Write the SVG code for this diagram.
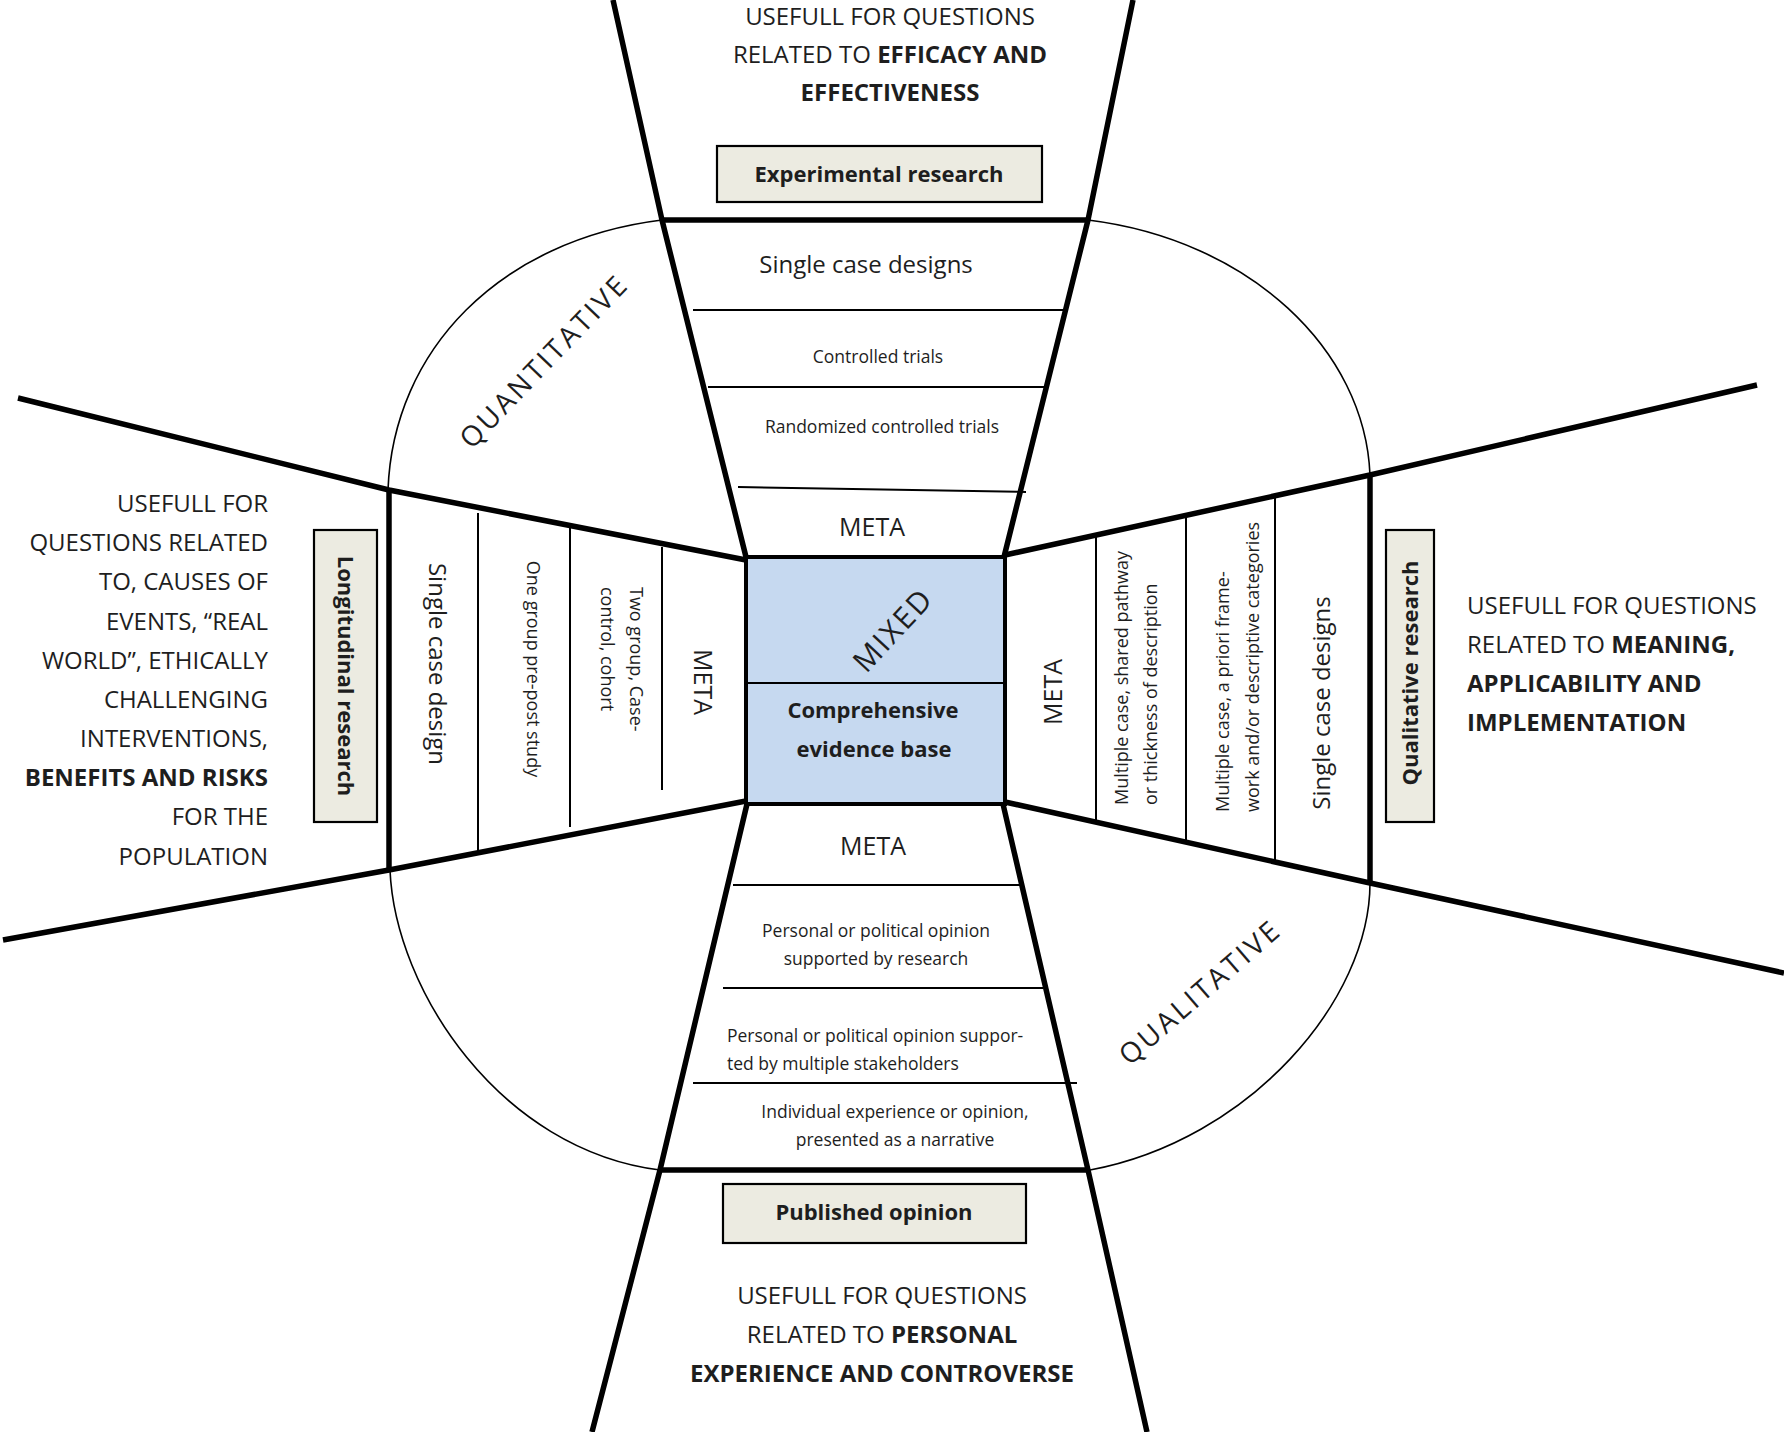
<svg xmlns="http://www.w3.org/2000/svg" width="1784" height="1432" viewBox="0 0 1784 1432">
<style>
text{font-family:"Open Sans","Liberation Sans",sans-serif;fill:#1e1e1e}
.body{font-size:24px}
.b{font-weight:bold}
.lbl{font-size:22px;font-weight:bold;text-anchor:middle}
.c{text-anchor:middle}
.r{text-anchor:end}
.big{font-size:24px}
.meta{font-size:25px;text-anchor:middle}
.sm{font-size:17.5px}
.sm18{font-size:18px}
.arc{font-size:28px;letter-spacing:3px;text-anchor:middle}
.thick{fill:none;stroke:#000;stroke-width:5.5;stroke-linejoin:round}
.thin{fill:none;stroke:#000;stroke-width:2}
.curve{fill:none;stroke:#000;stroke-width:1.6}
.box{fill:#ecebe1;stroke:#000;stroke-width:2.2}
</style>
<rect width="1784" height="1432" fill="#fff"/>

<g id="connectors">
  <path class="curve" d="M388,490 C393,350 500,240 662,220"/>
  <path class="curve" d="M1088,220 C1250,240 1365,350 1370,475"/>
  <path class="curve" d="M390,870 C395,990 500,1150 660,1170"/>
  <path class="curve" d="M1370,883 C1370,1000 1250,1140 1090,1170"/>
  <path class="thick" d="M613,0 L662,220 L746,557"/>
  <path class="thick" d="M1133,0 L1088,220 L1004,557"/>
  <path class="thick" d="M662,220 H1088"/>
  <path class="thin" d="M693,310 H1063"/>
  <path class="thin" d="M708,387 H1044"/>
  <path class="thin" d="M738,487 L1026,492"/>
  <path class="thick" d="M18,398 L389,490 L746,560"/>
  <path class="thick" d="M3,940 L389,870 L746,801"/>
  <path class="thick" d="M389,490 V870"/>
  <path class="thin" d="M478,513 V852"/>
  <path class="thin" d="M570,528 V827"/>
  <path class="thin" d="M662,547 V790"/>
  <path class="thick" d="M1005,555 L1370,475 L1757,385"/>
  <path class="thick" d="M1005,802 L1370,883 L1784,973"/>
  <path class="thick" d="M1370,475 V883"/>
  <path class="thin" d="M1096,537 V822"/>
  <path class="thin" d="M1186,515 V842"/>
  <path class="thin" d="M1275,497 V860"/>
  <path class="thick" d="M747,804 L660,1170 L592,1432"/>
  <path class="thick" d="M1003,804 L1088,1170 L1147,1432"/>
  <path class="thick" d="M660,1170 H1088"/>
  <path class="thin" d="M733,885 H1020"/>
  <path class="thin" d="M723,988 H1043"/>
  <path class="thin" d="M693,1083 H1077"/>
</g>

<g id="center">
  <rect x="746" y="557" width="259" height="247" fill="#c6d9f0" stroke="#000" stroke-width="4"/>
  <line x1="746" y1="683" x2="1005" y2="683" stroke="#000" stroke-width="2"/>
  <text class="c" font-size="30" letter-spacing="2" transform="translate(893,630) rotate(-47)" y="10.5">MIXED</text>
  <text class="lbl" x="873" y="718">Comprehensive</text>
  <text class="lbl" x="874" y="757">evidence base</text>
</g>

<g id="experimental">
  <text class="body c" x="890" y="25">USEFULL FOR QUESTIONS</text>
  <text class="body c" x="890" y="63">RELATED TO <tspan class="b">EFFICACY AND</tspan></text>
  <text class="body c b" x="890" y="101">EFFECTIVENESS</text>
  <rect class="box" x="717" y="146" width="325" height="56"/>
  <text class="lbl" x="879" y="182">Experimental research</text>
  <text class="big c" x="866" y="273">Single case designs</text>
  <text class="sm c" x="878" y="363">Controlled trials</text>
  <text class="sm c" x="882" y="433">Randomized controlled trials</text>
  <text class="meta" x="872" y="536">META</text>
</g>

<g id="quantitative">
  <text class="arc" transform="translate(544,361) rotate(-46)" y="10">QUANTITATIVE</text>
</g>

<g id="qualitative">
  <text class="arc" transform="translate(1200,992) rotate(-41)" y="10">QUALITATIVE</text>
</g>

<g id="longitudinal">
  <text class="body r" x="268" y="512">USEFULL FOR</text>
  <text class="body r" x="268" y="551">QUESTIONS RELATED</text>
  <text class="body r" x="268" y="590">TO, CAUSES OF</text>
  <text class="body r" x="268" y="630">EVENTS, “REAL</text>
  <text class="body r" x="268" y="669">WORLD”, ETHICALLY</text>
  <text class="body r" x="268" y="708">CHALLENGING</text>
  <text class="body r" x="268" y="747">INTERVENTIONS,</text>
  <text class="body r b" x="268" y="786">BENEFITS AND RISKS</text>
  <text class="body r" x="268" y="825">FOR THE</text>
  <text class="body r" x="268" y="865">POPULATION</text>
  <rect class="box" x="314" y="530" width="63" height="292"/>
  <text class="lbl" transform="translate(346,676) rotate(90)" y="8">Longitudinal research</text>
  <text class="big c" transform="translate(437,664) rotate(90)" y="8.5">Single case design</text>
  <text class="sm18 c" transform="translate(533,669) rotate(90)" y="6.3">One group pre-post study</text>
  <text class="sm18" transform="translate(636,587) rotate(90)"><tspan x="0" y="6.3">Two group, Case-</tspan><tspan x="0" y="35.3">control, cohort</tspan></text>
  <text class="meta" transform="translate(703,682) rotate(90)" y="9">META</text>
</g>

<g id="qualitative-research">
  <text class="meta" transform="translate(1053,692) rotate(-90)" y="9">META</text>
  <text class="sm18" transform="translate(1122,805) rotate(-90)"><tspan x="0" y="6.3">Multiple case, shared pathway</tspan><tspan x="0" y="35.3">or thickness of description</tspan></text>
  <text class="sm18" transform="translate(1223,812) rotate(-90)"><tspan x="0" y="6.3">Multiple case, a priori frame-</tspan><tspan x="0" y="36.3">work and/or descriptive categories</tspan></text>
  <text class="big c" transform="translate(1321,703) rotate(-90)" y="8.5">Single case designs</text>
  <rect class="box" x="1386" y="530" width="48" height="292"/>
  <text class="lbl" transform="translate(1410,673) rotate(-90)" y="8">Qualitative research</text>
  <text class="body" x="1467" y="614">USEFULL FOR QUESTIONS</text>
  <text class="body" x="1467" y="653">RELATED TO <tspan class="b">MEANING,</tspan></text>
  <text class="body b" x="1467" y="692">APPLICABILITY AND</text>
  <text class="body b" x="1467" y="731">IMPLEMENTATION</text>
</g>

<g id="published">
  <text class="meta" x="873" y="855">META</text>
  <text class="sm c" x="876" y="937">Personal or political opinion</text>
  <text class="sm c" x="876" y="965">supported by research</text>
  <text class="sm" x="727" y="1042">Personal or political opinion suppor-</text>
  <text class="sm" x="727" y="1070">ted by multiple stakeholders</text>
  <text class="sm c" x="895" y="1118">Individual experience or opinion,</text>
  <text class="sm c" x="895" y="1146">presented as a narrative</text>
  <rect class="box" x="723" y="1184" width="303" height="59"/>
  <text class="lbl" x="874" y="1220">Published opinion</text>
  <text class="body c" x="882" y="1304">USEFULL FOR QUESTIONS</text>
  <text class="body c" x="882" y="1343">RELATED TO <tspan class="b">PERSONAL</tspan></text>
  <text class="body c b" x="882" y="1382">EXPERIENCE AND CONTROVERSE</text>
</g>
</svg>
